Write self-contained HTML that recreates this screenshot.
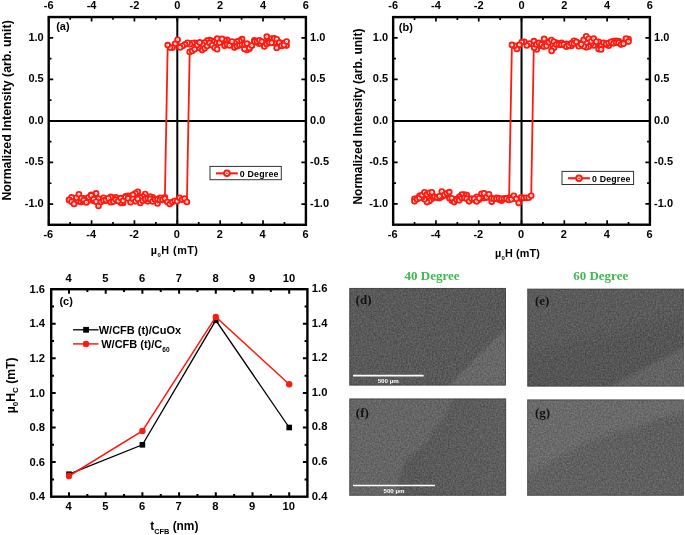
<!DOCTYPE html><html><head><meta charset="utf-8"><title>Figure</title><style>html,body{margin:0;padding:0;background:#fff}svg{display:block;will-change:transform}</style></head><body><svg width="685" height="535" viewBox="0 0 685 535">
<defs>
<g id="mk"><circle r="2.4" fill="#fff" stroke="#ff1a10" stroke-width="1.85"/><circle r="0.5" fill="#ff1a10" opacity="0.7"/></g>
<g id="mkL"><circle r="2.8" fill="#fff" stroke="#ff1a10" stroke-width="2"/><circle r="0.85" fill="#ff1a10"/></g>
<filter id="nz" x="0" y="0" width="100%" height="100%" color-interpolation-filters="sRGB"><feTurbulence type="fractalNoise" baseFrequency="0.62" numOctaves="2" seed="3" result="t0"/><feGaussianBlur in="t0" stdDeviation="0.45" result="t"/><feColorMatrix in="t" type="matrix" values="1 0 0 0 0  1 0 0 0 0  1 0 0 0 0  0 0 0 0 1" result="g"/><feComposite in="SourceGraphic" in2="g" operator="arithmetic" k1="0" k2="1" k3="0.24" k4="-0.12"/></filter>
</defs>
<rect width="685" height="535" fill="#fff"/>
<line x1="48.7" y1="120.92" x2="305.9" y2="120.92" stroke="#000" stroke-width="2"/>
<line x1="177.30" y1="17.05" x2="177.30" y2="224.8" stroke="#000" stroke-width="2"/>
<path d="M48.70 17.05v4.5M48.70 224.8v-4.5M70.13 17.05v2.8M70.13 224.8v-2.8M91.57 17.05v4.5M91.57 224.8v-4.5M113.00 17.05v2.8M113.00 224.8v-2.8M134.43 17.05v4.5M134.43 224.8v-4.5M155.87 17.05v2.8M155.87 224.8v-2.8M177.30 17.05v4.5M177.30 224.8v-4.5M198.73 17.05v2.8M198.73 224.8v-2.8M220.17 17.05v4.5M220.17 224.8v-4.5M241.60 17.05v2.8M241.60 224.8v-2.8M263.03 17.05v4.5M263.03 224.8v-4.5M284.47 17.05v2.8M284.47 224.8v-2.8M305.90 17.05v4.5M305.90 224.8v-4.5M48.7 204.03h4.5M305.9 204.03h-4.5M48.7 183.25h2.8M305.9 183.25h-2.8M48.7 162.47h4.5M305.9 162.47h-4.5M48.7 141.70h2.8M305.9 141.70h-2.8M48.7 120.92h4.5M305.9 120.92h-4.5M48.7 100.15h2.8M305.9 100.15h-2.8M48.7 79.38h4.5M305.9 79.38h-4.5M48.7 58.60h2.8M305.9 58.60h-2.8M48.7 37.83h4.5M305.9 37.83h-4.5" stroke="#000" stroke-width="1.7" fill="none"/>
<rect x="48.7" y="17.05" width="257.2" height="207.75" fill="none" stroke="#000" stroke-width="2.4"/>
<text x="48.70" y="8.75" font-size="11" font-weight="bold" text-anchor="middle" font-family="Liberation Sans, Arial, sans-serif" fill="#000" >-6</text>
<text x="48.30" y="238.30" font-size="11" font-weight="bold" text-anchor="middle" font-family="Liberation Sans, Arial, sans-serif" fill="#000" >-6</text>
<text x="91.57" y="8.75" font-size="11" font-weight="bold" text-anchor="middle" font-family="Liberation Sans, Arial, sans-serif" fill="#000" >-4</text>
<text x="91.17" y="238.30" font-size="11" font-weight="bold" text-anchor="middle" font-family="Liberation Sans, Arial, sans-serif" fill="#000" >-4</text>
<text x="134.43" y="8.75" font-size="11" font-weight="bold" text-anchor="middle" font-family="Liberation Sans, Arial, sans-serif" fill="#000" >-2</text>
<text x="134.03" y="238.30" font-size="11" font-weight="bold" text-anchor="middle" font-family="Liberation Sans, Arial, sans-serif" fill="#000" >-2</text>
<text x="177.30" y="8.75" font-size="11" font-weight="bold" text-anchor="middle" font-family="Liberation Sans, Arial, sans-serif" fill="#000" >0</text>
<text x="176.90" y="238.30" font-size="11" font-weight="bold" text-anchor="middle" font-family="Liberation Sans, Arial, sans-serif" fill="#000" >0</text>
<text x="220.17" y="8.75" font-size="11" font-weight="bold" text-anchor="middle" font-family="Liberation Sans, Arial, sans-serif" fill="#000" >2</text>
<text x="219.77" y="238.30" font-size="11" font-weight="bold" text-anchor="middle" font-family="Liberation Sans, Arial, sans-serif" fill="#000" >2</text>
<text x="263.03" y="8.75" font-size="11" font-weight="bold" text-anchor="middle" font-family="Liberation Sans, Arial, sans-serif" fill="#000" >4</text>
<text x="262.63" y="238.30" font-size="11" font-weight="bold" text-anchor="middle" font-family="Liberation Sans, Arial, sans-serif" fill="#000" >4</text>
<text x="305.90" y="8.75" font-size="11" font-weight="bold" text-anchor="middle" font-family="Liberation Sans, Arial, sans-serif" fill="#000" >6</text>
<text x="305.50" y="238.30" font-size="11" font-weight="bold" text-anchor="middle" font-family="Liberation Sans, Arial, sans-serif" fill="#000" >6</text>
<text x="43.70" y="40.83" font-size="11" font-weight="bold" text-anchor="end" font-family="Liberation Sans, Arial, sans-serif" fill="#000" >1.0</text>
<text x="310.10" y="40.83" font-size="11" font-weight="bold" text-anchor="start" font-family="Liberation Sans, Arial, sans-serif" fill="#000" >1.0</text>
<text x="43.70" y="82.38" font-size="11" font-weight="bold" text-anchor="end" font-family="Liberation Sans, Arial, sans-serif" fill="#000" >0.5</text>
<text x="310.10" y="82.38" font-size="11" font-weight="bold" text-anchor="start" font-family="Liberation Sans, Arial, sans-serif" fill="#000" >0.5</text>
<text x="43.70" y="123.92" font-size="11" font-weight="bold" text-anchor="end" font-family="Liberation Sans, Arial, sans-serif" fill="#000" >0.0</text>
<text x="310.10" y="123.92" font-size="11" font-weight="bold" text-anchor="start" font-family="Liberation Sans, Arial, sans-serif" fill="#000" >0.0</text>
<text x="43.70" y="165.47" font-size="11" font-weight="bold" text-anchor="end" font-family="Liberation Sans, Arial, sans-serif" fill="#000" >-0.5</text>
<text x="310.10" y="165.47" font-size="11" font-weight="bold" text-anchor="start" font-family="Liberation Sans, Arial, sans-serif" fill="#000" >-0.5</text>
<text x="43.70" y="207.03" font-size="11" font-weight="bold" text-anchor="end" font-family="Liberation Sans, Arial, sans-serif" fill="#000" >-1.0</text>
<text x="310.10" y="207.03" font-size="11" font-weight="bold" text-anchor="start" font-family="Liberation Sans, Arial, sans-serif" fill="#000" >-1.0</text>
<path d="M286.6 45.6L284.1 43.0L281.7 46.0L279.2 42.2L276.7 47.9L274.2 42.7L271.7 38.5L269.3 41.9L266.8 36.6L264.3 42.8L261.8 42.0L259.3 43.7L256.9 42.2L254.4 40.4L251.9 45.5L249.4 48.8L247.0 50.0L244.5 48.9L242.0 39.1L239.5 40.9L237.0 41.5L234.6 43.0L232.1 44.9L229.6 43.7L227.1 39.8L224.7 40.1L222.2 40.7L219.7 40.1L217.2 38.6L214.7 42.7L212.3 41.1L209.8 40.1L207.3 40.6L204.8 42.6L202.4 44.7L199.9 48.2L197.4 44.1L194.9 42.9L192.4 43.0L190.0 44.3L187.5 42.7L185.0 44.4L182.5 46.0L180.0 47.4L177.6 39.7L175.1 43.9L172.6 47.6L170.1 47.6L167.7 45.1L164.9 197.3L162.4 199.8L160.0 197.7L157.5 203.5L155.0 199.7L152.6 197.2L150.1 196.6L147.7 201.3L145.2 194.0L142.8 196.5L140.3 197.8L137.8 191.8L135.4 193.3L132.9 194.9L130.5 200.2L128.0 195.9L125.6 196.3L123.1 203.0L120.7 202.8L118.2 199.8L115.7 197.2L113.3 198.8L110.8 196.9L108.4 199.9L105.9 200.7L103.5 197.7L101.0 200.8L98.5 198.6L96.1 193.4L93.6 200.9L91.2 194.8L88.7 200.5L86.3 199.6L83.8 198.3L81.3 202.0L78.9 201.4L76.4 200.5L74.0 199.1L71.5 197.4L69.1 200.0L69.1 199.9L71.5 201.7L74.0 204.0L76.4 197.8L78.9 194.3L81.3 198.2L83.8 200.1L86.3 202.5L88.7 197.2L91.2 195.4L93.6 199.1L96.1 201.7L98.5 205.9L101.0 202.0L103.4 200.5L105.9 199.9L108.4 198.3L110.8 202.2L113.3 201.6L115.7 199.6L118.2 201.0L120.6 198.1L123.1 200.7L125.5 197.1L128.0 198.4L130.5 202.2L132.9 199.0L135.4 201.3L137.8 199.0L140.3 202.9L142.7 200.7L145.2 198.9L147.7 198.5L150.1 198.9L152.6 201.4L155.0 199.4L157.5 199.3L159.9 199.9L162.4 199.8L164.8 198.6L167.3 202.0L169.8 204.1L172.2 202.1L174.7 200.8L177.1 201.3L179.6 197.9L182.0 199.8L184.5 198.6L186.9 202.0L189.7 51.9L192.2 50.9L194.7 49.2L197.2 45.1L199.7 42.4L202.2 50.1L204.6 48.3L207.1 46.0L209.6 42.9L212.1 45.3L214.6 47.8L217.1 49.2L219.5 42.7L222.0 38.9L224.5 45.8L227.0 44.8L229.5 45.4L232.0 41.5L234.4 47.6L236.9 46.2L239.4 45.3L241.9 44.7L244.4 44.3L246.9 43.6L249.3 48.0L251.8 45.5L254.3 41.6L256.8 41.4L259.3 40.3L261.8 41.6L264.3 46.4L266.7 44.0L269.2 42.8L271.7 42.8L274.2 38.4L276.7 39.2L279.2 42.6L281.6 45.7L284.1 45.0L286.6 41.5" fill="none" stroke="#ff1a10" stroke-width="1.8" stroke-linejoin="round"/>
<use href="#mk" x="286.6" y="45.6"/><use href="#mk" x="284.1" y="43.0"/><use href="#mk" x="281.7" y="46.0"/><use href="#mk" x="279.2" y="42.2"/><use href="#mk" x="276.7" y="47.9"/><use href="#mk" x="274.2" y="42.7"/><use href="#mk" x="271.7" y="38.5"/><use href="#mk" x="269.3" y="41.9"/><use href="#mk" x="266.8" y="36.6"/><use href="#mk" x="264.3" y="42.8"/><use href="#mk" x="261.8" y="42.0"/><use href="#mk" x="259.3" y="43.7"/><use href="#mk" x="256.9" y="42.2"/><use href="#mk" x="254.4" y="40.4"/><use href="#mk" x="251.9" y="45.5"/><use href="#mk" x="249.4" y="48.8"/><use href="#mk" x="247.0" y="50.0"/><use href="#mk" x="244.5" y="48.9"/><use href="#mk" x="242.0" y="39.1"/><use href="#mk" x="239.5" y="40.9"/><use href="#mk" x="237.0" y="41.5"/><use href="#mk" x="234.6" y="43.0"/><use href="#mk" x="232.1" y="44.9"/><use href="#mk" x="229.6" y="43.7"/><use href="#mk" x="227.1" y="39.8"/><use href="#mk" x="224.7" y="40.1"/><use href="#mk" x="222.2" y="40.7"/><use href="#mk" x="219.7" y="40.1"/><use href="#mk" x="217.2" y="38.6"/><use href="#mk" x="214.7" y="42.7"/><use href="#mk" x="212.3" y="41.1"/><use href="#mk" x="209.8" y="40.1"/><use href="#mk" x="207.3" y="40.6"/><use href="#mk" x="204.8" y="42.6"/><use href="#mk" x="202.4" y="44.7"/><use href="#mk" x="199.9" y="48.2"/><use href="#mk" x="197.4" y="44.1"/><use href="#mk" x="194.9" y="42.9"/><use href="#mk" x="192.4" y="43.0"/><use href="#mk" x="190.0" y="44.3"/><use href="#mk" x="187.5" y="42.7"/><use href="#mk" x="185.0" y="44.4"/><use href="#mk" x="182.5" y="46.0"/><use href="#mk" x="180.0" y="47.4"/><use href="#mk" x="177.6" y="39.7"/><use href="#mk" x="175.1" y="43.9"/><use href="#mk" x="172.6" y="47.6"/><use href="#mk" x="170.1" y="47.6"/><use href="#mk" x="167.7" y="45.1"/><use href="#mk" x="164.9" y="197.3"/><use href="#mk" x="162.4" y="199.8"/><use href="#mk" x="160.0" y="197.7"/><use href="#mk" x="157.5" y="203.5"/><use href="#mk" x="155.0" y="199.7"/><use href="#mk" x="152.6" y="197.2"/><use href="#mk" x="150.1" y="196.6"/><use href="#mk" x="147.7" y="201.3"/><use href="#mk" x="145.2" y="194.0"/><use href="#mk" x="142.8" y="196.5"/><use href="#mk" x="140.3" y="197.8"/><use href="#mk" x="137.8" y="191.8"/><use href="#mk" x="135.4" y="193.3"/><use href="#mk" x="132.9" y="194.9"/><use href="#mk" x="130.5" y="200.2"/><use href="#mk" x="128.0" y="195.9"/><use href="#mk" x="125.6" y="196.3"/><use href="#mk" x="123.1" y="203.0"/><use href="#mk" x="120.7" y="202.8"/><use href="#mk" x="118.2" y="199.8"/><use href="#mk" x="115.7" y="197.2"/><use href="#mk" x="113.3" y="198.8"/><use href="#mk" x="110.8" y="196.9"/><use href="#mk" x="108.4" y="199.9"/><use href="#mk" x="105.9" y="200.7"/><use href="#mk" x="103.5" y="197.7"/><use href="#mk" x="101.0" y="200.8"/><use href="#mk" x="98.5" y="198.6"/><use href="#mk" x="96.1" y="193.4"/><use href="#mk" x="93.6" y="200.9"/><use href="#mk" x="91.2" y="194.8"/><use href="#mk" x="88.7" y="200.5"/><use href="#mk" x="86.3" y="199.6"/><use href="#mk" x="83.8" y="198.3"/><use href="#mk" x="81.3" y="202.0"/><use href="#mk" x="78.9" y="201.4"/><use href="#mk" x="76.4" y="200.5"/><use href="#mk" x="74.0" y="199.1"/><use href="#mk" x="71.5" y="197.4"/><use href="#mk" x="69.1" y="200.0"/><use href="#mk" x="69.1" y="199.9"/><use href="#mk" x="71.5" y="201.7"/><use href="#mk" x="74.0" y="204.0"/><use href="#mk" x="76.4" y="197.8"/><use href="#mk" x="78.9" y="194.3"/><use href="#mk" x="81.3" y="198.2"/><use href="#mk" x="83.8" y="200.1"/><use href="#mk" x="86.3" y="202.5"/><use href="#mk" x="88.7" y="197.2"/><use href="#mk" x="91.2" y="195.4"/><use href="#mk" x="93.6" y="199.1"/><use href="#mk" x="96.1" y="201.7"/><use href="#mk" x="98.5" y="205.9"/><use href="#mk" x="101.0" y="202.0"/><use href="#mk" x="103.4" y="200.5"/><use href="#mk" x="105.9" y="199.9"/><use href="#mk" x="108.4" y="198.3"/><use href="#mk" x="110.8" y="202.2"/><use href="#mk" x="113.3" y="201.6"/><use href="#mk" x="115.7" y="199.6"/><use href="#mk" x="118.2" y="201.0"/><use href="#mk" x="120.6" y="198.1"/><use href="#mk" x="123.1" y="200.7"/><use href="#mk" x="125.5" y="197.1"/><use href="#mk" x="128.0" y="198.4"/><use href="#mk" x="130.5" y="202.2"/><use href="#mk" x="132.9" y="199.0"/><use href="#mk" x="135.4" y="201.3"/><use href="#mk" x="137.8" y="199.0"/><use href="#mk" x="140.3" y="202.9"/><use href="#mk" x="142.7" y="200.7"/><use href="#mk" x="145.2" y="198.9"/><use href="#mk" x="147.7" y="198.5"/><use href="#mk" x="150.1" y="198.9"/><use href="#mk" x="152.6" y="201.4"/><use href="#mk" x="155.0" y="199.4"/><use href="#mk" x="157.5" y="199.3"/><use href="#mk" x="159.9" y="199.9"/><use href="#mk" x="162.4" y="199.8"/><use href="#mk" x="164.8" y="198.6"/><use href="#mk" x="167.3" y="202.0"/><use href="#mk" x="169.8" y="204.1"/><use href="#mk" x="172.2" y="202.1"/><use href="#mk" x="174.7" y="200.8"/><use href="#mk" x="177.1" y="201.3"/><use href="#mk" x="179.6" y="197.9"/><use href="#mk" x="182.0" y="199.8"/><use href="#mk" x="184.5" y="198.6"/><use href="#mk" x="186.9" y="202.0"/><use href="#mk" x="189.7" y="51.9"/><use href="#mk" x="192.2" y="50.9"/><use href="#mk" x="194.7" y="49.2"/><use href="#mk" x="197.2" y="45.1"/><use href="#mk" x="199.7" y="42.4"/><use href="#mk" x="202.2" y="50.1"/><use href="#mk" x="204.6" y="48.3"/><use href="#mk" x="207.1" y="46.0"/><use href="#mk" x="209.6" y="42.9"/><use href="#mk" x="212.1" y="45.3"/><use href="#mk" x="214.6" y="47.8"/><use href="#mk" x="217.1" y="49.2"/><use href="#mk" x="219.5" y="42.7"/><use href="#mk" x="222.0" y="38.9"/><use href="#mk" x="224.5" y="45.8"/><use href="#mk" x="227.0" y="44.8"/><use href="#mk" x="229.5" y="45.4"/><use href="#mk" x="232.0" y="41.5"/><use href="#mk" x="234.4" y="47.6"/><use href="#mk" x="236.9" y="46.2"/><use href="#mk" x="239.4" y="45.3"/><use href="#mk" x="241.9" y="44.7"/><use href="#mk" x="244.4" y="44.3"/><use href="#mk" x="246.9" y="43.6"/><use href="#mk" x="249.3" y="48.0"/><use href="#mk" x="251.8" y="45.5"/><use href="#mk" x="254.3" y="41.6"/><use href="#mk" x="256.8" y="41.4"/><use href="#mk" x="259.3" y="40.3"/><use href="#mk" x="261.8" y="41.6"/><use href="#mk" x="264.3" y="46.4"/><use href="#mk" x="266.7" y="44.0"/><use href="#mk" x="269.2" y="42.8"/><use href="#mk" x="271.7" y="42.8"/><use href="#mk" x="274.2" y="38.4"/><use href="#mk" x="276.7" y="39.2"/><use href="#mk" x="279.2" y="42.6"/><use href="#mk" x="281.6" y="45.7"/><use href="#mk" x="284.1" y="45.0"/><use href="#mk" x="286.6" y="41.5"/>
<text x="56.20" y="29.80" font-size="11" font-weight="bold" text-anchor="start" font-family="Liberation Sans, Arial, sans-serif" fill="#000" >(a)</text>
<text transform="translate(10.9,110.4) rotate(-90) scale(0.925,1)" font-size="13.3" font-weight="bold" text-anchor="middle" font-family="Liberation Sans, Arial, sans-serif">Normalized Intensity (arb. unit)</text>
<text x="174.6" y="254.4" letter-spacing="0.5" font-size="10.8" font-weight="bold" text-anchor="middle" font-family="Liberation Sans, Arial, sans-serif">µ<tspan font-size="6" dy="2.5">0</tspan><tspan dy="-2.5">H (mT)</tspan></text>
<rect x="210" y="166.4" width="71.30000000000001" height="13.299999999999983" fill="#fff" stroke="#333" stroke-width="1"/>
<line x1="216" y1="173.35000000000002" x2="237.8" y2="173.35000000000002" stroke="#ff1a10" stroke-width="2.1"/>
<use href="#mkL" x="226.9" y="173.35000000000002"/>
<text x="239.80" y="176.95" font-size="8.8" font-weight="bold" text-anchor="start" font-family="Liberation Sans, Arial, sans-serif" fill="#000" letter-spacing="0.2">0 Degree</text>
<line x1="393.15" y1="120.90" x2="649.9" y2="120.90" stroke="#000" stroke-width="2"/>
<line x1="521.52" y1="17.1" x2="521.52" y2="224.7" stroke="#000" stroke-width="2"/>
<path d="M393.15 17.1v4.5M393.15 224.7v-4.5M414.55 17.1v2.8M414.55 224.7v-2.8M435.94 17.1v4.5M435.94 224.7v-4.5M457.34 17.1v2.8M457.34 224.7v-2.8M478.73 17.1v4.5M478.73 224.7v-4.5M500.13 17.1v2.8M500.13 224.7v-2.8M521.52 17.1v4.5M521.52 224.7v-4.5M542.92 17.1v2.8M542.92 224.7v-2.8M564.32 17.1v4.5M564.32 224.7v-4.5M585.71 17.1v2.8M585.71 224.7v-2.8M607.11 17.1v4.5M607.11 224.7v-4.5M628.50 17.1v2.8M628.50 224.7v-2.8M649.90 17.1v4.5M649.90 224.7v-4.5M393.15 203.94h4.5M649.9 203.94h-4.5M393.15 183.18h2.8M649.9 183.18h-2.8M393.15 162.42h4.5M649.9 162.42h-4.5M393.15 141.66h2.8M649.9 141.66h-2.8M393.15 120.90h4.5M649.9 120.90h-4.5M393.15 100.14h2.8M649.9 100.14h-2.8M393.15 79.38h4.5M649.9 79.38h-4.5M393.15 58.62h2.8M649.9 58.62h-2.8M393.15 37.86h4.5M649.9 37.86h-4.5" stroke="#000" stroke-width="1.7" fill="none"/>
<rect x="393.15" y="17.1" width="256.75" height="207.6" fill="none" stroke="#000" stroke-width="2.4"/>
<text x="393.15" y="8.80" font-size="11" font-weight="bold" text-anchor="middle" font-family="Liberation Sans, Arial, sans-serif" fill="#000" >-6</text>
<text x="392.75" y="238.20" font-size="11" font-weight="bold" text-anchor="middle" font-family="Liberation Sans, Arial, sans-serif" fill="#000" >-6</text>
<text x="435.94" y="8.80" font-size="11" font-weight="bold" text-anchor="middle" font-family="Liberation Sans, Arial, sans-serif" fill="#000" >-4</text>
<text x="435.54" y="238.20" font-size="11" font-weight="bold" text-anchor="middle" font-family="Liberation Sans, Arial, sans-serif" fill="#000" >-4</text>
<text x="478.73" y="8.80" font-size="11" font-weight="bold" text-anchor="middle" font-family="Liberation Sans, Arial, sans-serif" fill="#000" >-2</text>
<text x="478.33" y="238.20" font-size="11" font-weight="bold" text-anchor="middle" font-family="Liberation Sans, Arial, sans-serif" fill="#000" >-2</text>
<text x="521.52" y="8.80" font-size="11" font-weight="bold" text-anchor="middle" font-family="Liberation Sans, Arial, sans-serif" fill="#000" >0</text>
<text x="521.12" y="238.20" font-size="11" font-weight="bold" text-anchor="middle" font-family="Liberation Sans, Arial, sans-serif" fill="#000" >0</text>
<text x="564.32" y="8.80" font-size="11" font-weight="bold" text-anchor="middle" font-family="Liberation Sans, Arial, sans-serif" fill="#000" >2</text>
<text x="563.92" y="238.20" font-size="11" font-weight="bold" text-anchor="middle" font-family="Liberation Sans, Arial, sans-serif" fill="#000" >2</text>
<text x="607.11" y="8.80" font-size="11" font-weight="bold" text-anchor="middle" font-family="Liberation Sans, Arial, sans-serif" fill="#000" >4</text>
<text x="606.71" y="238.20" font-size="11" font-weight="bold" text-anchor="middle" font-family="Liberation Sans, Arial, sans-serif" fill="#000" >4</text>
<text x="649.90" y="8.80" font-size="11" font-weight="bold" text-anchor="middle" font-family="Liberation Sans, Arial, sans-serif" fill="#000" >6</text>
<text x="649.50" y="238.20" font-size="11" font-weight="bold" text-anchor="middle" font-family="Liberation Sans, Arial, sans-serif" fill="#000" >6</text>
<text x="388.15" y="40.86" font-size="11" font-weight="bold" text-anchor="end" font-family="Liberation Sans, Arial, sans-serif" fill="#000" >1.0</text>
<text x="654.10" y="40.86" font-size="11" font-weight="bold" text-anchor="start" font-family="Liberation Sans, Arial, sans-serif" fill="#000" >1.0</text>
<text x="388.15" y="82.38" font-size="11" font-weight="bold" text-anchor="end" font-family="Liberation Sans, Arial, sans-serif" fill="#000" >0.5</text>
<text x="654.10" y="82.38" font-size="11" font-weight="bold" text-anchor="start" font-family="Liberation Sans, Arial, sans-serif" fill="#000" >0.5</text>
<text x="388.15" y="123.90" font-size="11" font-weight="bold" text-anchor="end" font-family="Liberation Sans, Arial, sans-serif" fill="#000" >0.0</text>
<text x="654.10" y="123.90" font-size="11" font-weight="bold" text-anchor="start" font-family="Liberation Sans, Arial, sans-serif" fill="#000" >0.0</text>
<text x="388.15" y="165.42" font-size="11" font-weight="bold" text-anchor="end" font-family="Liberation Sans, Arial, sans-serif" fill="#000" >-0.5</text>
<text x="654.10" y="165.42" font-size="11" font-weight="bold" text-anchor="start" font-family="Liberation Sans, Arial, sans-serif" fill="#000" >-0.5</text>
<text x="388.15" y="206.94" font-size="11" font-weight="bold" text-anchor="end" font-family="Liberation Sans, Arial, sans-serif" fill="#000" >-1.0</text>
<text x="654.10" y="206.94" font-size="11" font-weight="bold" text-anchor="start" font-family="Liberation Sans, Arial, sans-serif" fill="#000" >-1.0</text>
<path d="M628.5 39.0L626.0 39.4L623.5 42.9L621.1 43.5L618.6 41.1L616.1 40.7L613.6 41.1L611.1 43.3L608.7 45.7L606.2 44.3L603.7 44.4L601.2 45.5L598.7 41.8L596.3 42.9L593.8 45.5L591.3 43.8L588.8 46.4L586.3 47.3L583.8 46.2L581.4 42.8L578.9 43.3L576.4 41.7L573.9 40.7L571.4 46.0L569.0 44.3L566.5 43.8L564.0 44.7L561.5 42.9L559.0 44.2L556.6 42.9L554.1 47.8L551.6 50.9L549.1 41.8L546.6 41.6L544.1 38.9L541.7 45.9L539.2 44.3L536.7 49.5L534.2 47.7L531.7 44.0L529.3 43.5L526.8 45.4L524.3 41.8L521.8 42.1L519.3 44.9L516.9 48.9L514.4 45.8L511.9 44.9L509.1 197.9L506.6 198.9L504.1 198.8L501.6 200.7L499.2 199.7L496.7 197.9L494.2 199.1L491.7 201.8L489.2 196.3L486.7 197.4L484.2 197.9L481.7 196.6L479.3 199.6L476.8 196.8L474.3 199.7L471.8 198.9L469.3 199.4L466.8 195.0L464.3 194.6L461.8 194.6L459.3 196.9L456.9 199.0L454.4 199.7L451.9 200.7L449.4 198.2L446.9 194.3L444.4 195.6L441.9 196.8L439.4 198.1L436.9 197.4L434.5 197.0L432.0 198.7L429.5 200.9L427.0 202.1L424.5 199.3L422.0 197.3L419.5 195.9L417.0 198.6L414.5 198.9L414.5 201.3L417.0 199.2L419.5 198.0L422.0 195.0L424.5 192.2L427.0 194.4L429.4 192.7L431.9 192.2L434.4 196.8L436.9 197.6L439.4 196.2L441.8 191.5L444.3 195.0L446.8 193.2L449.3 192.1L451.8 198.2L454.2 202.1L456.7 199.9L459.2 200.3L461.7 198.1L464.2 197.9L466.6 198.8L469.1 201.3L471.6 198.8L474.1 198.7L476.6 201.5L479.1 198.3L481.5 193.8L484.0 193.4L486.5 197.2L489.0 194.3L491.5 198.3L493.9 198.7L496.4 198.7L498.9 198.3L501.4 198.7L503.9 198.6L506.3 198.4L508.8 199.9L511.3 199.2L513.8 195.8L516.3 198.9L518.7 203.0L521.2 197.2L523.7 197.9L526.2 197.8L528.7 197.7L531.2 195.8L533.9 41.1L536.4 44.4L538.9 42.9L541.4 44.4L543.9 46.6L546.4 46.0L548.9 42.2L551.4 40.0L553.8 41.8L556.3 44.5L558.8 44.6L561.3 44.7L563.8 44.5L566.3 46.7L568.8 45.4L571.3 43.4L573.8 43.7L576.2 42.0L578.7 46.2L581.2 44.3L583.7 39.9L586.2 36.3L588.7 38.8L591.2 41.2L593.7 38.6L596.2 41.8L598.6 49.1L601.1 49.4L603.6 42.7L606.1 43.9L608.6 43.0L611.1 41.9L613.6 43.3L616.1 42.6L618.5 42.8L621.0 44.6L623.5 43.7L626.0 38.6L628.5 41.6" fill="none" stroke="#ff1a10" stroke-width="1.8" stroke-linejoin="round"/>
<use href="#mk" x="628.5" y="39.0"/><use href="#mk" x="626.0" y="39.4"/><use href="#mk" x="623.5" y="42.9"/><use href="#mk" x="621.1" y="43.5"/><use href="#mk" x="618.6" y="41.1"/><use href="#mk" x="616.1" y="40.7"/><use href="#mk" x="613.6" y="41.1"/><use href="#mk" x="611.1" y="43.3"/><use href="#mk" x="608.7" y="45.7"/><use href="#mk" x="606.2" y="44.3"/><use href="#mk" x="603.7" y="44.4"/><use href="#mk" x="601.2" y="45.5"/><use href="#mk" x="598.7" y="41.8"/><use href="#mk" x="596.3" y="42.9"/><use href="#mk" x="593.8" y="45.5"/><use href="#mk" x="591.3" y="43.8"/><use href="#mk" x="588.8" y="46.4"/><use href="#mk" x="586.3" y="47.3"/><use href="#mk" x="583.8" y="46.2"/><use href="#mk" x="581.4" y="42.8"/><use href="#mk" x="578.9" y="43.3"/><use href="#mk" x="576.4" y="41.7"/><use href="#mk" x="573.9" y="40.7"/><use href="#mk" x="571.4" y="46.0"/><use href="#mk" x="569.0" y="44.3"/><use href="#mk" x="566.5" y="43.8"/><use href="#mk" x="564.0" y="44.7"/><use href="#mk" x="561.5" y="42.9"/><use href="#mk" x="559.0" y="44.2"/><use href="#mk" x="556.6" y="42.9"/><use href="#mk" x="554.1" y="47.8"/><use href="#mk" x="551.6" y="50.9"/><use href="#mk" x="549.1" y="41.8"/><use href="#mk" x="546.6" y="41.6"/><use href="#mk" x="544.1" y="38.9"/><use href="#mk" x="541.7" y="45.9"/><use href="#mk" x="539.2" y="44.3"/><use href="#mk" x="536.7" y="49.5"/><use href="#mk" x="534.2" y="47.7"/><use href="#mk" x="531.7" y="44.0"/><use href="#mk" x="529.3" y="43.5"/><use href="#mk" x="526.8" y="45.4"/><use href="#mk" x="524.3" y="41.8"/><use href="#mk" x="521.8" y="42.1"/><use href="#mk" x="519.3" y="44.9"/><use href="#mk" x="516.9" y="48.9"/><use href="#mk" x="514.4" y="45.8"/><use href="#mk" x="511.9" y="44.9"/><use href="#mk" x="509.1" y="197.9"/><use href="#mk" x="506.6" y="198.9"/><use href="#mk" x="504.1" y="198.8"/><use href="#mk" x="501.6" y="200.7"/><use href="#mk" x="499.2" y="199.7"/><use href="#mk" x="496.7" y="197.9"/><use href="#mk" x="494.2" y="199.1"/><use href="#mk" x="491.7" y="201.8"/><use href="#mk" x="489.2" y="196.3"/><use href="#mk" x="486.7" y="197.4"/><use href="#mk" x="484.2" y="197.9"/><use href="#mk" x="481.7" y="196.6"/><use href="#mk" x="479.3" y="199.6"/><use href="#mk" x="476.8" y="196.8"/><use href="#mk" x="474.3" y="199.7"/><use href="#mk" x="471.8" y="198.9"/><use href="#mk" x="469.3" y="199.4"/><use href="#mk" x="466.8" y="195.0"/><use href="#mk" x="464.3" y="194.6"/><use href="#mk" x="461.8" y="194.6"/><use href="#mk" x="459.3" y="196.9"/><use href="#mk" x="456.9" y="199.0"/><use href="#mk" x="454.4" y="199.7"/><use href="#mk" x="451.9" y="200.7"/><use href="#mk" x="449.4" y="198.2"/><use href="#mk" x="446.9" y="194.3"/><use href="#mk" x="444.4" y="195.6"/><use href="#mk" x="441.9" y="196.8"/><use href="#mk" x="439.4" y="198.1"/><use href="#mk" x="436.9" y="197.4"/><use href="#mk" x="434.5" y="197.0"/><use href="#mk" x="432.0" y="198.7"/><use href="#mk" x="429.5" y="200.9"/><use href="#mk" x="427.0" y="202.1"/><use href="#mk" x="424.5" y="199.3"/><use href="#mk" x="422.0" y="197.3"/><use href="#mk" x="419.5" y="195.9"/><use href="#mk" x="417.0" y="198.6"/><use href="#mk" x="414.5" y="198.9"/><use href="#mk" x="414.5" y="201.3"/><use href="#mk" x="417.0" y="199.2"/><use href="#mk" x="419.5" y="198.0"/><use href="#mk" x="422.0" y="195.0"/><use href="#mk" x="424.5" y="192.2"/><use href="#mk" x="427.0" y="194.4"/><use href="#mk" x="429.4" y="192.7"/><use href="#mk" x="431.9" y="192.2"/><use href="#mk" x="434.4" y="196.8"/><use href="#mk" x="436.9" y="197.6"/><use href="#mk" x="439.4" y="196.2"/><use href="#mk" x="441.8" y="191.5"/><use href="#mk" x="444.3" y="195.0"/><use href="#mk" x="446.8" y="193.2"/><use href="#mk" x="449.3" y="192.1"/><use href="#mk" x="451.8" y="198.2"/><use href="#mk" x="454.2" y="202.1"/><use href="#mk" x="456.7" y="199.9"/><use href="#mk" x="459.2" y="200.3"/><use href="#mk" x="461.7" y="198.1"/><use href="#mk" x="464.2" y="197.9"/><use href="#mk" x="466.6" y="198.8"/><use href="#mk" x="469.1" y="201.3"/><use href="#mk" x="471.6" y="198.8"/><use href="#mk" x="474.1" y="198.7"/><use href="#mk" x="476.6" y="201.5"/><use href="#mk" x="479.1" y="198.3"/><use href="#mk" x="481.5" y="193.8"/><use href="#mk" x="484.0" y="193.4"/><use href="#mk" x="486.5" y="197.2"/><use href="#mk" x="489.0" y="194.3"/><use href="#mk" x="491.5" y="198.3"/><use href="#mk" x="493.9" y="198.7"/><use href="#mk" x="496.4" y="198.7"/><use href="#mk" x="498.9" y="198.3"/><use href="#mk" x="501.4" y="198.7"/><use href="#mk" x="503.9" y="198.6"/><use href="#mk" x="506.3" y="198.4"/><use href="#mk" x="508.8" y="199.9"/><use href="#mk" x="511.3" y="199.2"/><use href="#mk" x="513.8" y="195.8"/><use href="#mk" x="516.3" y="198.9"/><use href="#mk" x="518.7" y="203.0"/><use href="#mk" x="521.2" y="197.2"/><use href="#mk" x="523.7" y="197.9"/><use href="#mk" x="526.2" y="197.8"/><use href="#mk" x="528.7" y="197.7"/><use href="#mk" x="531.2" y="195.8"/><use href="#mk" x="533.9" y="41.1"/><use href="#mk" x="536.4" y="44.4"/><use href="#mk" x="538.9" y="42.9"/><use href="#mk" x="541.4" y="44.4"/><use href="#mk" x="543.9" y="46.6"/><use href="#mk" x="546.4" y="46.0"/><use href="#mk" x="548.9" y="42.2"/><use href="#mk" x="551.4" y="40.0"/><use href="#mk" x="553.8" y="41.8"/><use href="#mk" x="556.3" y="44.5"/><use href="#mk" x="558.8" y="44.6"/><use href="#mk" x="561.3" y="44.7"/><use href="#mk" x="563.8" y="44.5"/><use href="#mk" x="566.3" y="46.7"/><use href="#mk" x="568.8" y="45.4"/><use href="#mk" x="571.3" y="43.4"/><use href="#mk" x="573.8" y="43.7"/><use href="#mk" x="576.2" y="42.0"/><use href="#mk" x="578.7" y="46.2"/><use href="#mk" x="581.2" y="44.3"/><use href="#mk" x="583.7" y="39.9"/><use href="#mk" x="586.2" y="36.3"/><use href="#mk" x="588.7" y="38.8"/><use href="#mk" x="591.2" y="41.2"/><use href="#mk" x="593.7" y="38.6"/><use href="#mk" x="596.2" y="41.8"/><use href="#mk" x="598.6" y="49.1"/><use href="#mk" x="601.1" y="49.4"/><use href="#mk" x="603.6" y="42.7"/><use href="#mk" x="606.1" y="43.9"/><use href="#mk" x="608.6" y="43.0"/><use href="#mk" x="611.1" y="41.9"/><use href="#mk" x="613.6" y="43.3"/><use href="#mk" x="616.1" y="42.6"/><use href="#mk" x="618.5" y="42.8"/><use href="#mk" x="621.0" y="44.6"/><use href="#mk" x="623.5" y="43.7"/><use href="#mk" x="626.0" y="38.6"/><use href="#mk" x="628.5" y="41.6"/>
<text x="398.80" y="30.90" font-size="11" font-weight="bold" text-anchor="start" font-family="Liberation Sans, Arial, sans-serif" fill="#000" >(b)</text>
<text transform="translate(361.7,116.6) rotate(-90) scale(1,1)" font-size="12.0" font-weight="bold" text-anchor="middle" font-family="Liberation Sans, Arial, sans-serif">Normalized Intensity (arb. unit)</text>
<text x="517.5" y="257.1" letter-spacing="0.15" font-size="10.8" font-weight="bold" text-anchor="middle" font-family="Liberation Sans, Arial, sans-serif">µ<tspan font-size="6" dy="2.5">0</tspan><tspan dy="-2.5">H (mT)</tspan></text>
<rect x="562" y="171.4" width="71.60000000000002" height="13.099999999999994" fill="#fff" stroke="#333" stroke-width="1"/>
<line x1="568" y1="178.25" x2="589.9" y2="178.25" stroke="#ff1a10" stroke-width="2.1"/>
<use href="#mkL" x="579.0" y="178.25"/>
<text x="591.90" y="181.85" font-size="8.8" font-weight="bold" text-anchor="start" font-family="Liberation Sans, Arial, sans-serif" fill="#000" letter-spacing="0.2">0 Degree</text>
<path d="M69.00 289.2v4.5M69.00 496.7v-4.5M87.35 289.2v2.8M87.35 496.7v-2.8M105.70 289.2v4.5M105.70 496.7v-4.5M124.05 289.2v2.8M124.05 496.7v-2.8M142.40 289.2v4.5M142.40 496.7v-4.5M160.75 289.2v2.8M160.75 496.7v-2.8M179.10 289.2v4.5M179.10 496.7v-4.5M197.45 289.2v2.8M197.45 496.7v-2.8M215.80 289.2v4.5M215.80 496.7v-4.5M234.15 289.2v2.8M234.15 496.7v-2.8M252.50 289.2v4.5M252.50 496.7v-4.5M270.85 289.2v2.8M270.85 496.7v-2.8M289.20 289.2v4.5M289.20 496.7v-4.5M51.2 479.41h2.8M307.4 479.41h-2.8M51.2 462.12h4.5M307.4 462.12h-4.5M51.2 444.82h2.8M307.4 444.82h-2.8M51.2 427.53h4.5M307.4 427.53h-4.5M51.2 410.24h2.8M307.4 410.24h-2.8M51.2 392.95h4.5M307.4 392.95h-4.5M51.2 375.66h2.8M307.4 375.66h-2.8M51.2 358.37h4.5M307.4 358.37h-4.5M51.2 341.07h2.8M307.4 341.07h-2.8M51.2 323.78h4.5M307.4 323.78h-4.5M51.2 306.49h2.8M307.4 306.49h-2.8" stroke="#000" stroke-width="2.0" fill="none"/>
<rect x="51.2" y="289.2" width="256.2" height="207.5" fill="none" stroke="#000" stroke-width="2.4"/>
<text x="68.70" y="282.10" font-size="11.2" font-weight="bold" text-anchor="middle" font-family="Liberation Sans, Arial, sans-serif" fill="#000" >4</text>
<text x="68.60" y="510.00" font-size="11.2" font-weight="bold" text-anchor="middle" font-family="Liberation Sans, Arial, sans-serif" fill="#000" >4</text>
<text x="105.40" y="282.10" font-size="11.2" font-weight="bold" text-anchor="middle" font-family="Liberation Sans, Arial, sans-serif" fill="#000" >5</text>
<text x="105.30" y="510.00" font-size="11.2" font-weight="bold" text-anchor="middle" font-family="Liberation Sans, Arial, sans-serif" fill="#000" >5</text>
<text x="142.10" y="282.10" font-size="11.2" font-weight="bold" text-anchor="middle" font-family="Liberation Sans, Arial, sans-serif" fill="#000" >6</text>
<text x="142.00" y="510.00" font-size="11.2" font-weight="bold" text-anchor="middle" font-family="Liberation Sans, Arial, sans-serif" fill="#000" >6</text>
<text x="178.80" y="282.10" font-size="11.2" font-weight="bold" text-anchor="middle" font-family="Liberation Sans, Arial, sans-serif" fill="#000" >7</text>
<text x="178.70" y="510.00" font-size="11.2" font-weight="bold" text-anchor="middle" font-family="Liberation Sans, Arial, sans-serif" fill="#000" >7</text>
<text x="215.50" y="282.10" font-size="11.2" font-weight="bold" text-anchor="middle" font-family="Liberation Sans, Arial, sans-serif" fill="#000" >8</text>
<text x="215.40" y="510.00" font-size="11.2" font-weight="bold" text-anchor="middle" font-family="Liberation Sans, Arial, sans-serif" fill="#000" >8</text>
<text x="252.20" y="282.10" font-size="11.2" font-weight="bold" text-anchor="middle" font-family="Liberation Sans, Arial, sans-serif" fill="#000" >9</text>
<text x="252.10" y="510.00" font-size="11.2" font-weight="bold" text-anchor="middle" font-family="Liberation Sans, Arial, sans-serif" fill="#000" >9</text>
<text x="288.90" y="282.10" font-size="11.2" font-weight="bold" text-anchor="middle" font-family="Liberation Sans, Arial, sans-serif" fill="#000" >10</text>
<text x="288.80" y="510.00" font-size="11.2" font-weight="bold" text-anchor="middle" font-family="Liberation Sans, Arial, sans-serif" fill="#000" >10</text>
<text x="45.10" y="500.30" font-size="11.2" font-weight="bold" text-anchor="end" font-family="Liberation Sans, Arial, sans-serif" fill="#000" >0.4</text>
<text x="311.80" y="499.60" font-size="11.2" font-weight="bold" text-anchor="start" font-family="Liberation Sans, Arial, sans-serif" fill="#000" >0.4</text>
<text x="45.10" y="465.72" font-size="11.2" font-weight="bold" text-anchor="end" font-family="Liberation Sans, Arial, sans-serif" fill="#000" >0.6</text>
<text x="311.80" y="465.02" font-size="11.2" font-weight="bold" text-anchor="start" font-family="Liberation Sans, Arial, sans-serif" fill="#000" >0.6</text>
<text x="45.10" y="431.13" font-size="11.2" font-weight="bold" text-anchor="end" font-family="Liberation Sans, Arial, sans-serif" fill="#000" >0.8</text>
<text x="311.80" y="430.43" font-size="11.2" font-weight="bold" text-anchor="start" font-family="Liberation Sans, Arial, sans-serif" fill="#000" >0.8</text>
<text x="45.10" y="396.55" font-size="11.2" font-weight="bold" text-anchor="end" font-family="Liberation Sans, Arial, sans-serif" fill="#000" >1.0</text>
<text x="311.80" y="395.85" font-size="11.2" font-weight="bold" text-anchor="start" font-family="Liberation Sans, Arial, sans-serif" fill="#000" >1.0</text>
<text x="45.10" y="361.97" font-size="11.2" font-weight="bold" text-anchor="end" font-family="Liberation Sans, Arial, sans-serif" fill="#000" >1.2</text>
<text x="311.80" y="361.27" font-size="11.2" font-weight="bold" text-anchor="start" font-family="Liberation Sans, Arial, sans-serif" fill="#000" >1.2</text>
<text x="45.10" y="327.38" font-size="11.2" font-weight="bold" text-anchor="end" font-family="Liberation Sans, Arial, sans-serif" fill="#000" >1.4</text>
<text x="311.80" y="326.68" font-size="11.2" font-weight="bold" text-anchor="start" font-family="Liberation Sans, Arial, sans-serif" fill="#000" >1.4</text>
<text x="45.10" y="292.80" font-size="11.2" font-weight="bold" text-anchor="end" font-family="Liberation Sans, Arial, sans-serif" fill="#000" >1.6</text>
<text x="311.80" y="292.10" font-size="11.2" font-weight="bold" text-anchor="start" font-family="Liberation Sans, Arial, sans-serif" fill="#000" >1.6</text>
<path d="M69.0 474.2L142.4 444.8L215.8 320.3L289.2 427.5" fill="none" stroke="#000" stroke-width="1.3"/>
<rect x="66.2" y="471.4" width="5.6" height="5.6" fill="#000"/>
<rect x="139.6" y="442.0" width="5.6" height="5.6" fill="#000"/>
<rect x="213.0" y="317.5" width="5.6" height="5.6" fill="#000"/>
<rect x="286.4" y="424.7" width="5.6" height="5.6" fill="#000"/>
<path d="M69.0 476.0L142.4 431.0L215.8 316.9L289.2 384.3" fill="none" stroke="#ff1a10" stroke-width="1.5"/>
<circle cx="69.0" cy="476.0" r="3.2" fill="#ff1a10"/>
<circle cx="142.4" cy="431.0" r="3.2" fill="#ff1a10"/>
<circle cx="215.8" cy="316.9" r="3.2" fill="#ff1a10"/>
<circle cx="289.2" cy="384.3" r="3.2" fill="#ff1a10"/>
<text x="59.40" y="305.30" font-size="11" font-weight="bold" text-anchor="start" font-family="Liberation Sans, Arial, sans-serif" fill="#000" >(c)</text>
<line x1="73" y1="329.8" x2="98.5" y2="329.8" stroke="#000" stroke-width="1.3"/>
<rect x="83.2" y="326.9" width="5.8" height="5.8" fill="#000"/>
<text x="98.70" y="333.60" font-size="11" font-weight="bold" text-anchor="start" font-family="Liberation Sans, Arial, sans-serif" fill="#000" >W/CFB (t)/CuOx</text>
<line x1="73" y1="343.9" x2="98.5" y2="343.9" stroke="#ff1a10" stroke-width="1.5"/>
<circle cx="86" cy="343.9" r="3.2" fill="#ff1a10"/>
<text x="101.2" y="347.7" font-size="11" font-weight="bold" text-anchor="start" font-family="Liberation Sans, Arial, sans-serif">W/CFB (t)/C<tspan font-size="6.5" dy="3.8">60</tspan></text>
<text transform="translate(14.9,385.3) rotate(-90)" font-size="12.2" font-weight="bold" text-anchor="middle" font-family="Liberation Sans, Arial, sans-serif">µ<tspan font-size="8" dy="3">0</tspan><tspan dy="-3">H</tspan><tspan font-size="8" dy="3">C</tspan><tspan dy="-3"> (mT)</tspan></text>
<text x="174.3" y="529.9" font-size="11.9" font-weight="bold" text-anchor="middle" font-family="Liberation Sans, Arial, sans-serif">t<tspan font-size="7.4" dy="3.6">CFB</tspan><tspan dy="-3.6"> (nm)</tspan></text>
<defs><filter id="bl" x="-10%" y="-10%" width="120%" height="120%"><feGaussianBlur stdDeviation="1.1"/></filter><filter id="bl2" x="-10%" y="-10%" width="120%" height="120%"><feGaussianBlur stdDeviation="1.8"/></filter><filter id="bl3" x="-10%" y="-10%" width="120%" height="120%"><feGaussianBlur stdDeviation="3"/></filter>
<linearGradient id="gd" gradientUnits="userSpaceOnUse" x1="349" y1="288" x2="480" y2="386"><stop offset="0" stop-color="#5a5a5a"/><stop offset="1" stop-color="#585858"/></linearGradient>
<linearGradient id="ge" gradientUnits="userSpaceOnUse" x1="565" y1="296" x2="588" y2="388"><stop offset="0" stop-color="#5b5b5b"/><stop offset="0.4" stop-color="#5a5a5a"/><stop offset="0.62" stop-color="#555555"/><stop offset="1" stop-color="#555555"/></linearGradient>
<linearGradient id="gf" gradientUnits="userSpaceOnUse" x1="400" y1="0" x2="506" y2="0"><stop offset="0" stop-color="#585858"/><stop offset="1" stop-color="#5e5e5e"/></linearGradient>
<linearGradient id="gg" gradientUnits="userSpaceOnUse" x1="560" y1="500" x2="610" y2="400"><stop offset="0" stop-color="#616161"/><stop offset="1" stop-color="#5e5e5e"/></linearGradient>
</defs>
<clipPath id="cd"><rect x="349.3" y="287.9" width="156.7" height="97.70000000000005"/></clipPath>
<g clip-path="url(#cd)"><g filter="url(#nz)"><rect x="345.3" y="283.9" width="164.7" height="105.70000000000005" fill="url(#gd)"/>
<polygon points="444.5,390 510,323.5 510,390" fill="#686868" filter="url(#bl)"/>
</g></g>
<rect x="349.8" y="288.4" width="155.7" height="96.70000000000005" fill="none" stroke="#333" stroke-width="1" opacity="0.45"/>
<text x="355.60" y="304.00" font-size="13" font-weight="bold" text-anchor="start" font-family="Liberation Serif, Times New Roman, serif" fill="#111" >(d)</text>
<line x1="353" y1="375.6" x2="423.6" y2="375.6" stroke="#fff" stroke-width="1.6"/>
<text x="388.20" y="383.00" font-size="6.2" font-weight="bold" text-anchor="middle" font-family="Liberation Sans, Arial, sans-serif" fill="#fff" >500 µm</text>
<clipPath id="ce"><rect x="527.3" y="288.7" width="156.5" height="97.90000000000003"/></clipPath>
<g clip-path="url(#ce)"><g filter="url(#nz)"><rect x="523.3" y="284.7" width="164.5" height="105.90000000000003" fill="url(#ge)"/>
<polygon points="602,391 689,344.5 689,391" fill="#646464" filter="url(#bl2)"/>
</g></g>
<rect x="527.8" y="289.2" width="155.5" height="96.90000000000003" fill="none" stroke="#333" stroke-width="1" opacity="0.45"/>
<text x="535.00" y="305.40" font-size="13" font-weight="bold" text-anchor="start" font-family="Liberation Serif, Times New Roman, serif" fill="#111" >(e)</text>
<clipPath id="cf"><rect x="349.3" y="398.6" width="156.8" height="97.09999999999997"/></clipPath>
<g clip-path="url(#cf)"><g filter="url(#nz)"><rect x="345.3" y="394.6" width="164.8" height="105.09999999999997" fill="url(#gf)"/>
<polygon points="345,394 455,394 448.2,409.5 441.3,421 425.1,444.1 405.5,460.3 400.9,474.1 398.6,485.7 397,500 345,500" fill="#656565" filter="url(#bl2)"/>
</g></g>
<rect x="349.8" y="399.1" width="155.8" height="96.09999999999997" fill="none" stroke="#333" stroke-width="1" opacity="0.45"/>
<text x="355.80" y="417.00" font-size="13" font-weight="bold" text-anchor="start" font-family="Liberation Serif, Times New Roman, serif" fill="#111" >(f)</text>
<line x1="353" y1="485.5" x2="435" y2="485.5" stroke="#fff" stroke-width="1.6"/>
<text x="394.00" y="492.80" font-size="6.2" font-weight="bold" text-anchor="middle" font-family="Liberation Sans, Arial, sans-serif" fill="#fff" >500 µm</text>
<clipPath id="cg"><rect x="527.2" y="399.5" width="156.5999999999999" height="96.19999999999999"/></clipPath>
<g clip-path="url(#cg)"><g filter="url(#nz)"><rect x="523.2" y="395.5" width="164.5999999999999" height="104.19999999999999" fill="url(#gg)"/>
<polygon points="523,395 689,395 689,411 665,417 642,425 610,434 582,445 555,459 523,478" fill="#6a6a6a" filter="url(#bl3)"/>
</g></g>
<rect x="527.7" y="400.0" width="155.5999999999999" height="95.19999999999999" fill="none" stroke="#333" stroke-width="1" opacity="0.45"/>
<text x="535.00" y="416.60" font-size="13" font-weight="bold" text-anchor="start" font-family="Liberation Serif, Times New Roman, serif" fill="#111" >(g)</text>
<text x="432.00" y="280.30" font-size="13" font-weight="bold" text-anchor="middle" font-family="Liberation Serif, Times New Roman, serif" fill="#3fba4e" >40 Degree</text>
<text x="600.70" y="279.60" font-size="13" font-weight="bold" text-anchor="middle" font-family="Liberation Serif, Times New Roman, serif" fill="#3fba4e" >60 Degree</text>
</svg></body></html>
